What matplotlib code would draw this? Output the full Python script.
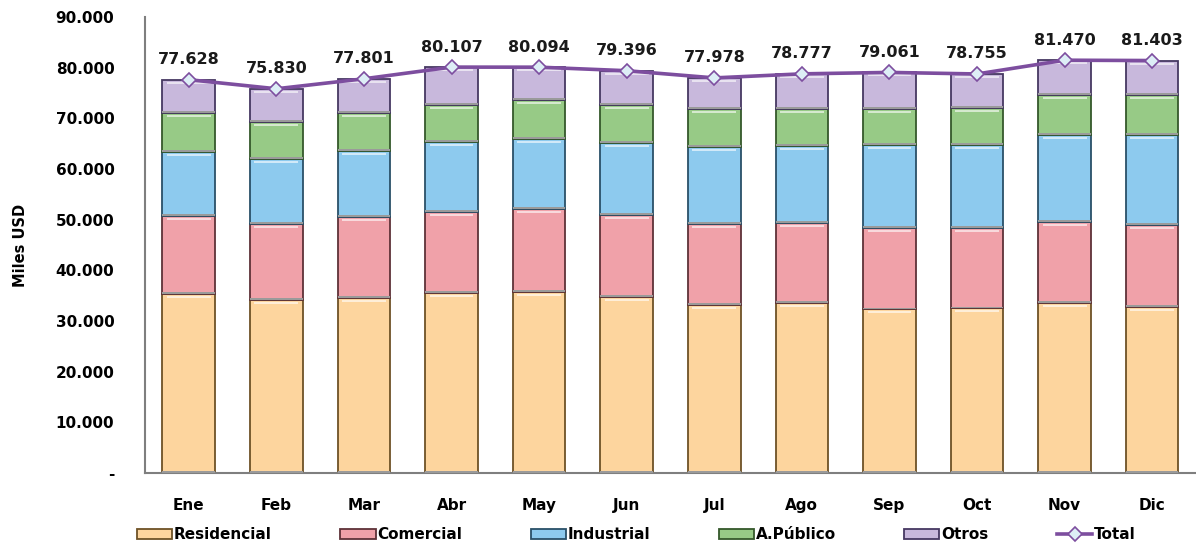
import matplotlib
matplotlib.use("Agg")
import matplotlib.pyplot as plt
import numpy as np

months = ["Ene", "Feb", "Mar", "Abr", "May", "Jun", "Jul", "Ago", "Sep", "Oct", "Nov", "Dic"]
residencial = [35300, 34100, 34500, 35500, 35800, 34700, 33200, 33500, 32300, 32500, 33500, 32800]
comercial   = [15500, 15000, 16100, 16100, 16400, 16200, 15900, 15900, 16000, 15800, 16100, 16100]
industrial  = [12600, 12900, 13000, 13800, 13700, 14200, 15200, 15100, 16400, 16400, 17200, 17900]
a_publico   = [7600, 7300, 7400, 7200, 7800, 7500, 7500, 7300, 7100, 7300, 7900, 7900]
otros       = [6628, 6530, 6801, 7507, 6394, 6796, 6178, 6977, 7261, 6755, 6770, 6703]
total       = [77628, 75830, 77801, 80107, 80094, 79396, 77978, 78777, 79061, 78755, 81470, 81403]

series = [
    ("Residencial", residencial, "#FDD59E", "#6e5226"),
    ("Comercial", comercial, "#F0A1A9", "#5e3238"),
    ("Industrial", industrial, "#8DCAEE", "#2a5068"),
    ("A.Público", a_publico, "#97CA86", "#35582b"),
    ("Otros", otros, "#C8B8DC", "#463862"),
]

plt.rcParams['font.family'] = ['DejaVu Sans']
fig = plt.figure(figsize=(11.96, 5.48), dpi=100)
ax = fig.add_axes([0.1212, 0.1369, 0.8788, 0.8321])

x = np.arange(len(months))
bottom = np.zeros(len(months))
handles = []
for name, vals, col, edge in series:
    v = np.array(vals, dtype=float)
    b = ax.bar(x, v, 0.6, bottom=bottom, color=col, edgecolor=edge, linewidth=1.3,
               label=name, zorder=2)
    # bevel highlight near the top of each segment
    ax.bar(x, np.full(len(v), 400.0), 0.5, bottom=bottom + v - 800, color="white", alpha=0.6,
           linewidth=0, zorder=3)
    # gray separator between segments
    ax.bar(x, np.full(len(v), 350.0), 0.6, bottom=bottom, color="#9a9a9a", linewidth=0, zorder=3)
    handles.append(b)
    bottom += v

ln, = ax.plot(x, total, color="#7D4E9F", linewidth=2.6, marker="D", markersize=7.5,
              markerfacecolor="#DDEEF6", markeredgecolor="#7D4E9F", markeredgewidth=1.2,
              label="Total", zorder=5)
handles.append(ln)

for xi, t in zip(x, total):
    s = f"{t:,}".replace(",", ".")
    ax.annotate(s, (xi, t), xytext=(0, 9), textcoords="offset points", ha="center",
                va="bottom", fontsize=11.5, fontweight="bold", color="#1a1a1a")

ax.set_xlim(-0.5, 11.5)
ax.set_ylim(0, 90000)
ax.set_yticks(np.arange(0, 90001, 10000))
ax.set_yticklabels(["-"] + [f"{v:,}".replace(",", ".") for v in range(10000, 90001, 10000)])
ax.set_xticks(x)
ax.set_xticklabels(months)
for lab in ax.get_xticklabels() + ax.get_yticklabels():
    lab.set_fontweight("bold")
    lab.set_fontsize(11)
ax.tick_params(axis="y", length=0, pad=22)
ax.tick_params(axis="x", length=0, pad=18)
for s in ["top", "right"]:
    ax.spines[s].set_visible(False)
for s in ["left", "bottom"]:
    ax.spines[s].set_color("#7f7f7f")
    ax.spines[s].set_linewidth(1.5)
ax.set_ylabel("Miles USD", fontsize=10.5, fontweight="bold", labelpad=20)

leg = fig.legend(handles=handles, labels=[h.get_label() for h in handles],
                 loc="center", bbox_to_anchor=(0.532, 0.024), ncol=6, frameon=False,
                 handlelength=2.3, handleheight=0.7, handletextpad=0.1,
                 columnspacing=4.5, prop={"weight": "bold", "size": 11})

fig.savefig("out.png", dpi=100)
